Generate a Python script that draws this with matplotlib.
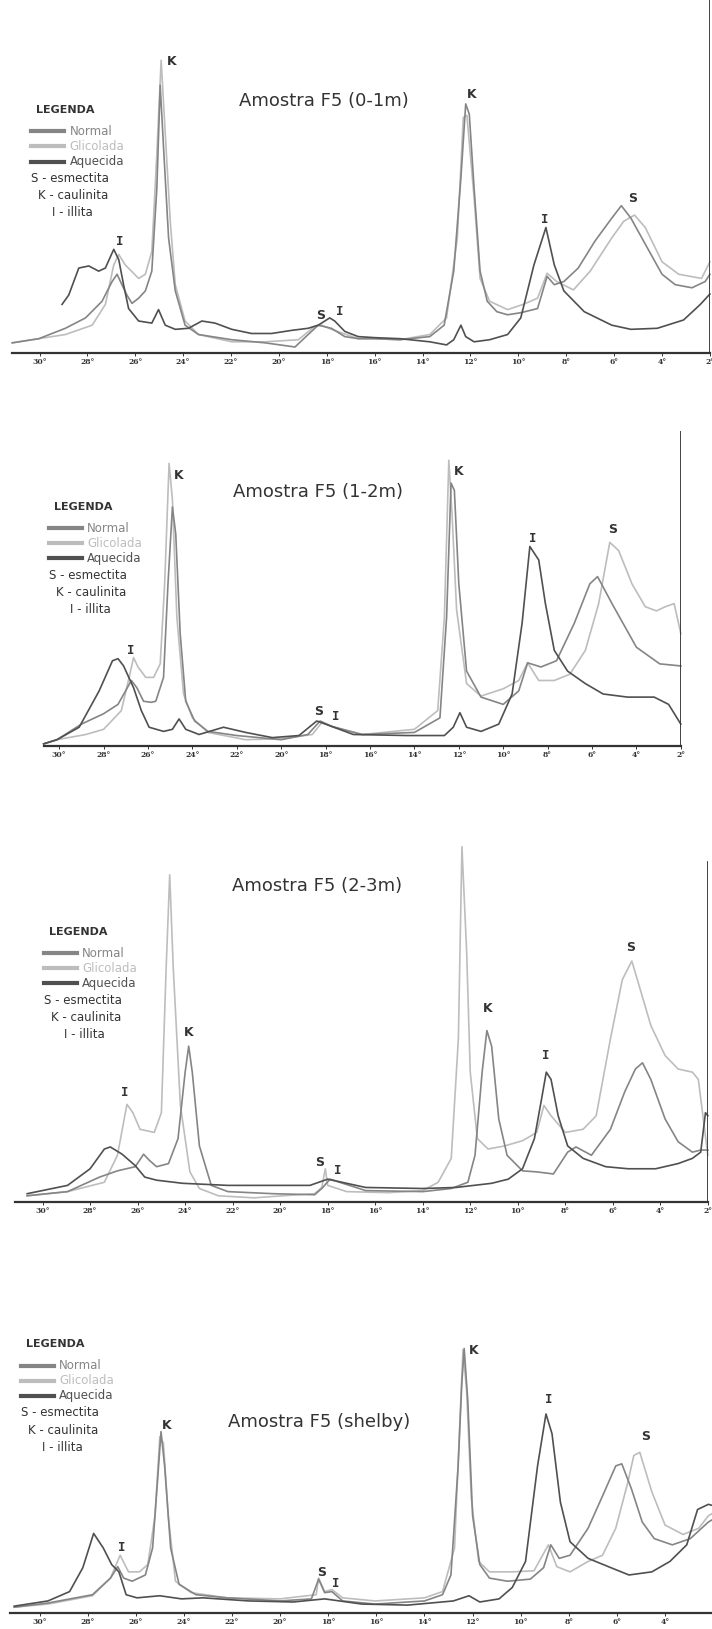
"""Difratogramas de raios X - amostras F5 (normal, glicolada, aquecida)."""
import matplotlib
matplotlib.use("Agg")
import matplotlib.pyplot as plt
from matplotlib.lines import Line2D

# layout units: the reference page as 685 x 1568
W, H = 685, 1568

C_NORMAL = "#858585"
C_GLIC = "#bdbdbd"
C_AQUE = "#505050"
C_TEXT = "#333333"

# ---- Amostra F5 (0-1m) ----
P1_NOR_X = [31.14, 30.03, 28.92, 28.08, 27.39, 26.97, 26.76, 26.56, 26.35, 26.14,
            25.86, 25.58, 25.31, 25.1, 24.96, 24.82, 24.61, 24.33, 23.92, 23.36,
            21.97, 20.58, 19.33, 18.78, 18.36, 17.81, 17.25, 16.69, 16.0, 14.95,
            13.7, 13.1, 12.7, 12.4, 12.2, 12.05, 11.85, 11.6, 11.3, 10.9,
            10.45, 9.9, 9.2, 8.8, 8.5, 8.1, 7.5, 6.8, 6.1, 5.7,
            5.3, 4.7, 4.0, 3.45, 2.75, 2.2, 2.0]
P1_NOR_Y = [10, 14, 24, 34, 50, 69, 76, 66, 56, 48,
            53, 60, 79, 159, 258, 198, 111, 60, 27, 18,
            13, 10, 6, 18, 27, 24, 16, 14, 14, 13,
            16, 27, 79, 169, 240, 230, 159, 79, 50, 40,
            37, 39, 43, 74, 66, 69, 82, 108, 130, 142,
            130, 105, 76, 66, 63, 69, 76]
P1_GLI_X = [31.14, 28.92, 27.8, 27.25, 26.9, 26.69, 26.42, 25.86, 25.58, 25.31,
            25.1, 24.92, 24.78, 24.54, 24.33, 23.92, 23.36, 21.97, 20.58, 19.19,
            18.5, 18.22, 17.81, 16.69, 16.0, 14.95, 13.7, 13.0, 12.55, 12.3,
            12.15, 11.85, 11.6, 11.2, 10.45, 9.8, 9.2, 8.8, 8.4, 7.7,
            7.0, 6.1, 5.6, 5.15, 4.7, 4.0, 3.3, 2.35, 2.0]
P1_GLI_Y = [10, 18, 27, 47, 85, 95, 85, 72, 76, 98,
            192, 282, 224, 127, 66, 31, 18, 11, 11, 13,
            26, 27, 23, 14, 14, 13, 18, 34, 111, 227,
            229, 150, 72, 50, 42, 47, 53, 77, 69, 61,
            79, 111, 127, 133, 121, 88, 76, 72, 88]
P1_AQU_X = [29.06, 28.78, 28.36, 27.94, 27.53, 27.25, 26.9, 26.69, 26.49, 26.28,
            25.86, 25.31, 25.03, 24.75, 24.33, 23.78, 23.22, 22.67, 21.97, 21.14,
            20.31, 19.47, 18.78, 18.36, 17.88, 17.67, 17.25, 16.69, 16.0, 14.95,
            13.7, 13.0, 12.7, 12.4, 12.2, 11.85, 11.2, 10.45, 9.9, 9.35,
            8.85, 8.5, 8.1, 7.25, 6.1, 5.3, 4.2, 3.1, 2.4, 2.0]
P1_AQU_Y = [47, 56, 82, 84, 79, 82, 100, 90, 66, 43,
            31, 29, 42, 27, 23, 24, 31, 29, 23, 19,
            19, 22, 24, 27, 34, 31, 21, 16, 15, 14,
            11, 8, 13, 27, 16, 11, 13, 18, 34, 85,
            121, 85, 60, 40, 27, 23, 24, 32, 47, 57]
P1_MARKS = [("K", 24.49, 281), ("I", 26.66, 108), ("S", 18.24, 36), ("I", 17.46, 40),
            ("K", 11.94, 249), ("I", 8.91, 129), ("S", 5.22, 149)]

# ---- Amostra F5 (1-2m) ----
P2_NOR_X = [30.7, 30.1, 29.0, 28.0, 27.35, 26.75, 26.5, 26.2, 25.85, 25.65,
            25.3, 25.1, 24.9, 24.75, 24.55, 24.3, 23.9, 23.3, 22.0, 20.0,
            18.8, 18.25, 17.75, 16.35, 14.0, 12.85, 12.55, 12.35, 12.2, 12.0,
            11.65, 11.0, 10.0, 9.3, 8.9, 8.3, 7.6, 6.8, 6.1, 5.75,
            5.1, 4.0, 2.95, 2.0]
P2_NOR_Y = [2, 6, 21, 31, 40, 63, 56, 43, 42, 43,
            66, 156, 230, 204, 108, 43, 24, 14, 10, 6,
            11, 24, 19, 11, 13, 27, 124, 253, 246, 156,
            72, 47, 40, 53, 80, 76, 82, 118, 156, 163,
            137, 95, 79, 77]
P2_GLI_X = [30.7, 30.1, 28.8, 28.0, 27.2, 26.85, 26.65, 26.45, 26.1, 25.75,
            25.45, 25.25, 25.05, 24.9, 24.7, 24.4, 24.0, 23.3, 21.6, 20.0,
            18.6, 18.15, 17.65, 16.35, 14.0, 12.95, 12.65, 12.45, 12.3, 12.1,
            11.65, 11.0, 10.0, 9.3, 8.9, 8.4, 7.7, 7.0, 6.3, 5.7,
            5.2, 4.8, 4.2, 3.6, 3.1, 2.7, 2.3, 2.0]
P2_GLI_Y = [2, 6, 11, 16, 34, 66, 85, 76, 66, 66,
            79, 156, 272, 237, 124, 50, 27, 13, 6, 7,
            11, 23, 18, 11, 16, 34, 124, 275, 221, 131,
            60, 48, 55, 63, 80, 63, 63, 69, 92, 137,
            196, 188, 156, 134, 130, 134, 137, 108]
P2_AQU_X = [30.7, 30.1, 29.1, 28.2, 27.6, 27.35, 27.1, 26.65, 26.3, 25.95,
            25.3, 24.9, 24.6, 24.3, 23.7, 22.6, 21.6, 20.4, 19.2, 18.4,
            17.75, 16.75, 14.3, 12.65, 12.25, 11.95, 11.65, 11.0, 10.2, 9.6,
            9.15, 8.8, 8.4, 8.1, 7.7, 7.1, 6.3, 5.5, 4.4, 3.2,
            2.55, 2.0]
P2_AQU_Y = [2, 6, 18, 53, 82, 84, 77, 56, 34, 18,
            14, 16, 26, 16, 11, 18, 13, 8, 10, 24,
            19, 11, 10, 10, 18, 32, 18, 14, 21, 50,
            118, 192, 179, 137, 92, 72, 60, 50, 47, 47,
            40, 21]
P2_MARKS = [("K", 24.62, 260), ("I", 26.77, 92), ("S", 18.3, 33), ("I", 17.55, 28),
            ("K", 12.02, 264), ("I", 8.65, 200), ("S", 5.09, 208)]

# ---- Amostra F5 (2-3m) ----
P3_NOR_X = [30.65, 28.95, 27.6, 26.85, 26.1, 25.75, 25.5, 25.2, 24.7, 24.3,
            24.0, 23.85, 23.7, 23.4, 22.9, 22.2, 20.3, 18.55, 18.25, 17.9,
            17.5, 16.4, 14.0, 12.8, 12.1, 11.8, 11.5, 11.3, 11.1, 10.8,
            10.45, 9.8, 9.2, 8.5, 7.9, 7.55, 6.9, 6.1, 5.5, 5.05,
            4.75, 4.4, 3.8, 3.25, 2.65, 2.3, 2.0]
P3_NOR_Y = [6, 10, 24, 30, 34, 46, 40, 34, 37, 61,
            125, 150, 125, 54, 16, 10, 8, 7, 13, 22,
            19, 11, 10, 13, 19, 45, 125, 165, 150, 80,
            45, 30, 29, 27, 48, 53, 45, 70, 106, 128,
            134, 118, 80, 58, 48, 50, 50]
P3_GLI_X = [30.65, 28.95, 27.4, 26.85, 26.45, 26.2, 25.9, 25.3, 25.0, 24.8,
            24.65, 24.5, 24.2, 23.8, 23.4, 22.6, 21.1, 19.9, 18.55, 18.25,
            18.1, 18.0, 17.2, 15.45, 14.0, 13.35, 12.8, 12.5, 12.35, 12.15,
            12.0, 11.7, 11.25, 10.55, 9.8, 9.2, 8.9, 8.6, 8.0, 7.25,
            6.7, 6.1, 5.6, 5.2, 4.85, 4.4, 3.8, 3.25, 2.65, 2.4,
            2.0]
P3_GLI_Y = [6, 10, 19, 45, 94, 86, 70, 67, 86, 225,
            315, 225, 93, 29, 13, 6, 4, 6, 8, 14,
            32, 16, 10, 9, 11, 19, 42, 157, 342, 240,
            125, 61, 51, 54, 59, 67, 93, 83, 67, 70,
            83, 157, 214, 232, 205, 170, 141, 128, 125, 118,
            45]
P3_AQU_X = [30.65, 28.95, 28.0, 27.4, 27.15, 26.65, 26.1, 25.7, 25.2, 24.1,
            22.2, 20.3, 18.75, 18.0, 17.4, 16.4, 14.0, 12.6, 11.1, 10.4,
            9.8, 9.3, 9.0, 8.8, 8.6, 8.3, 7.9, 7.25, 6.3, 5.35,
            4.2, 3.25, 2.65, 2.3, 2.1, 2.0]
P3_AQU_Y = [8, 16, 32, 51, 53, 46, 35, 24, 21, 18,
            16, 16, 16, 22, 19, 14, 13, 14, 18, 22,
            32, 61, 99, 125, 118, 83, 54, 42, 34, 32,
            32, 37, 42, 48, 86, 83]
P3_MARKS = [("I", 26.54, 105), ("K", 23.83, 163), ("S", 18.36, 38), ("I", 17.58, 30),
            ("K", 11.28, 186), ("I", 8.83, 141), ("S", 5.24, 245)]

# ---- Amostra F5 (shelby) ----
P4_NOR_X = [31.05, 29.65, 27.8, 27.05, 26.75, 26.5, 26.15, 25.6, 25.3, 25.1,
            24.95, 24.8, 24.55, 24.2, 23.5, 22.2, 20.0, 18.7, 18.4, 18.15,
            17.85, 17.4, 16.05, 14.0, 13.25, 12.9, 12.6, 12.45, 12.35, 12.2,
            12.0, 11.7, 11.3, 10.55, 9.6, 9.05, 8.75, 8.4, 7.95, 7.2,
            6.6, 6.05, 5.8, 5.4, 4.95, 4.45, 3.7, 2.95, 2.2, 2.05]
P4_NOR_Y = [6, 10, 18, 34, 45, 34, 31, 37, 63, 126,
            175, 142, 63, 28, 18, 15, 12, 14, 33, 20,
            21, 12, 9, 12, 18, 37, 142, 221, 255, 205,
            94, 47, 34, 31, 33, 44, 66, 53, 56, 82,
            113, 142, 144, 120, 88, 72, 66, 72, 88, 90]
P4_GLI_X = [31.05, 29.65, 27.8, 27.05, 26.65, 26.3, 25.85, 25.5, 25.2, 25.0,
            24.85, 24.65, 24.35, 23.7, 22.2, 20.0, 18.5, 18.4, 18.15, 17.85,
            17.4, 16.05, 14.0, 13.25, 12.75, 12.55, 12.4, 12.25, 12.05, 11.75,
            11.3, 10.35, 9.45, 8.85, 8.5, 7.95, 7.2, 6.6, 6.05, 5.55,
            5.3, 5.05, 4.55, 4.0, 3.25, 2.6, 2.2, 2.05]
P4_GLI_Y = [6, 9, 17, 34, 56, 40, 40, 47, 94, 170,
            164, 94, 31, 20, 15, 14, 18, 34, 21, 23,
            15, 12, 15, 21, 63, 173, 254, 215, 110, 50,
            40, 40, 41, 66, 45, 40, 50, 56, 82, 126,
            152, 155, 117, 85, 76, 82, 94, 96]
P4_AQU_X = [31.05, 29.65, 28.75, 28.2, 27.75, 27.35, 27.0, 26.7, 26.4, 25.95,
            25.0, 24.1, 23.2, 21.3, 19.45, 18.15, 16.6, 14.7, 12.8, 12.15,
            11.7, 10.9, 10.35, 9.8, 9.3, 8.95, 8.7, 8.35, 7.95, 7.2,
            6.25, 5.5, 4.55, 3.8, 3.1, 2.65, 2.2, 2.05]
P4_AQU_Y = [7, 12, 21, 44, 77, 63, 47, 40, 18, 15,
            17, 14, 15, 12, 11, 14, 9, 8, 12, 17,
            11, 14, 25, 50, 142, 192, 173, 107, 69, 53,
            44, 37, 40, 50, 66, 100, 105, 104]
P4_MARKS = [("I", 26.59, 63), ("K", 24.73, 181), ("S", 18.29, 39), ("I", 17.69, 29),
            ("K", 11.94, 253), ("I", 8.83, 206), ("S", 4.82, 170)]

TICKS = [30, 28, 26, 24, 22, 20, 18, 16, 14, 12, 10, 8, 6, 4, 2]
LEG_ITEMS = [("Normal", C_NORMAL), ("Glicolada", C_GLIC), ("Aquecida", C_AQUE)]
LEG_KEYS = ["S - esmectita", "K - caulinita", "I - illita"]


def fx(x):
    return x / W


def fy(y):
    return 1 - y / H


def legend(fig, x0, y0):
    fig.text(fx(x0), fy(y0), "LEGENDA", fontsize=8, fontweight="bold",
             color=C_TEXT, va="center", ha="left")
    for i, (name, col) in enumerate(LEG_ITEMS):
        yy = y0 + 20.5 + i * 14.5
        fig.add_artist(Line2D([fx(x0 - 5), fx(x0 + 27)], [fy(yy), fy(yy)],
                              color=col, lw=3.0, transform=fig.transFigure))
        fig.text(fx(x0 + 32), fy(yy), name, fontsize=8.5, color=col,
                 va="center", ha="left")
    for i, (txt, dx) in enumerate(zip(LEG_KEYS, [-5, 2, 15])):
        fig.text(fx(x0 + dx), fy(y0 + 66 + i * 16.5), txt, fontsize=8.5,
                 color=C_TEXT, va="center", ha="left")


def panel(fig, box, xlim, ytop, spine_top, series, marks, title, title_xy, leg_xy):
    left, right, top, bottom = box
    ax = fig.add_axes([fx(left), fy(bottom), fx(right - left), (bottom - top) / H])
    for xs, ys, col in series:
        ax.plot(xs, ys, color=col, lw=1.2, solid_joinstyle="round", clip_on=False)
    for lab, x, y in marks:
        ax.text(x, y, lab, fontsize=9, fontweight="bold", color=C_TEXT,
                family="DejaVu Sans Mono" if lab == "I" else "DejaVu Sans",
                ha="center", va="center")
    ax.set_xlim(*xlim)
    ax.set_ylim(0, ytop)
    for s in ("top", "left", "right"):
        ax.spines[s].set_visible(False)
    ax.spines["bottom"].set_linewidth(1.6)
    ax.spines["bottom"].set_color(C_TEXT)
    if spine_top:
        ax.axvline(2, 0, spine_top / ytop, color=C_TEXT, lw=1.3)
    ax.set_yticks([])
    ticks = [t for t in TICKS if min(xlim) <= t <= max(xlim)]
    ax.set_xticks(ticks)
    ax.set_xticklabels([f"{t}°" for t in ticks], fontsize=5.5, fontweight="bold",
                       family="DejaVu Serif", color=C_TEXT)
    ax.tick_params(axis="x", length=2, width=0.7, pad=1.5, colors=C_TEXT)
    fig.text(fx(title_xy[0]), fy(title_xy[1]), title, fontsize=13, color=C_TEXT,
             ha="center", va="center")
    legend(fig, *leg_xy)
    return ax


def main():
    fig = plt.figure(figsize=(7.12, 16.29), dpi=100)

    panel(fig, (12, 683, 0, 340), (31.13, 2.0), 340, 340,
          [(P1_GLI_X, P1_GLI_Y, C_GLIC), (P1_NOR_X, P1_NOR_Y, C_NORMAL),
           (P1_AQU_X, P1_AQU_Y, C_AQUE)],
          P1_MARKS, "Amostra F5 (0-1m)", (312, 97), (35, 106))

    panel(fig, (42, 655, 415, 718), (30.7, 2.0), 303, 303,
          [(P2_GLI_X, P2_GLI_Y, C_GLIC), (P2_NOR_X, P2_NOR_Y, C_NORMAL),
           (P2_AQU_X, P2_AQU_Y, C_AQUE)],
          P2_MARKS, "Amostra F5 (1-2m)", (306, 474), (52, 488))

    panel(fig, (14, 681, 810, 1157), (31.18, 2.0), 347, 327,
          [(P3_GLI_X, P3_GLI_Y, C_GLIC), (P3_NOR_X, P3_NOR_Y, C_NORMAL),
           (P3_AQU_X, P3_AQU_Y, C_AQUE)],
          P3_MARKS, "Amostra F5 (2-3m)", (305, 853), (47, 897))

    panel(fig, (10, 685, 1280, 1553), (31.21, 2.05), 273, 0,
          [(P4_GLI_X, P4_GLI_Y, C_GLIC), (P4_NOR_X, P4_NOR_Y, C_NORMAL),
           (P4_AQU_X, P4_AQU_Y, C_AQUE)],
          P4_MARKS, "Amostra F5 (shelby)", (307, 1369), (25, 1294))

    fig.savefig("out.png", dpi=100)


if __name__ == "__main__":
    main()
